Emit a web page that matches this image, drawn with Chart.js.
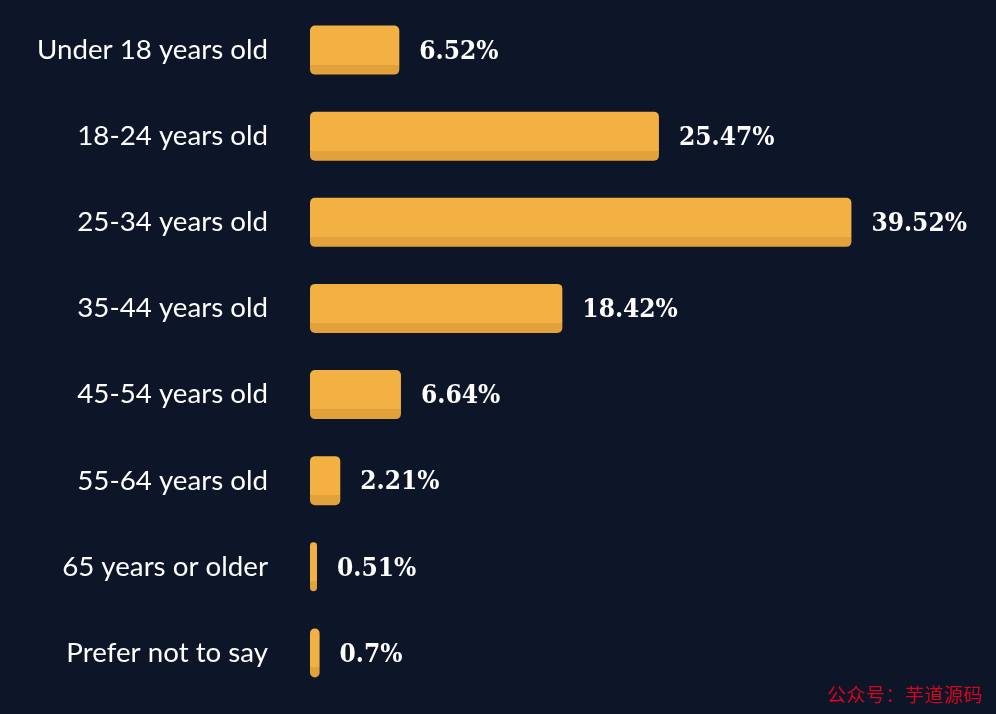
<!DOCTYPE html>
<html>
<head>
<meta charset="utf-8">
<script src="https://cdn.jsdelivr.net/npm/chart.js@4/dist/chart.umd.min.js"></script>
<style>
  html, body { margin: 0; padding: 0; background: #0d1529; }
  #wrap { position: relative; width: 996px; height: 714px; }
  #mark { position: absolute; left: 827px; top: 680px; color: #d4051c; font: 19px "Noto Sans CJK SC", sans-serif; letter-spacing: 0.5px; }
</style>
</head>
<body>
<div id="wrap">
  <canvas id="ageChart" width="996" height="714"></canvas>
  <div id="mark">公众号：芋道源码</div>
</div>
<script>
  // age groups and share of respondents (%)
  const ageGroups = [
    'Under 18 years old',
    '18-24 years old',
    '25-34 years old',
    '35-44 years old',
    '45-54 years old',
    '55-64 years old',
    '65 years or older',
    'Prefer not to say'
  ];
  const shares = [6.52, 25.47, 39.52, 18.42, 6.64, 2.21, 0.51, 0.7];

  const BAR_TOP = '#f3b043';
  const BAR_BOTTOM = '#e3a13b';
  const BAR_PCT = 0.57;

  // darker strip along the bottom of each bar
  function barFill(context) {
    const chart = context.chart;
    const y = chart.scales && chart.scales.y;
    if (!y || context.dataIndex === undefined) return BAR_TOP;
    const center = y.getPixelForValue(context.dataIndex);
    const step = Math.abs(y.getPixelForValue(1) - y.getPixelForValue(0));
    if (!isFinite(center) || !isFinite(step) || step === 0) return BAR_TOP;
    const h = step * BAR_PCT;
    const top = center - h / 2;
    const g = chart.ctx.createLinearGradient(0, top, 0, top + h);
    const cut = (h - 10) / h;
    g.addColorStop(0, BAR_TOP);
    g.addColorStop(cut, BAR_TOP);
    g.addColorStop(cut, BAR_BOTTOM);
    g.addColorStop(1, BAR_BOTTOM);
    return g;
  }

  const valueLabels = {
    id: 'valueLabels',
    afterDatasetsDraw(chart) {
      const ctx = chart.ctx;
      const meta = chart.getDatasetMeta(0);
      ctx.save();
      ctx.fillStyle = '#ffffff';
      ctx.font = 'bold 26px "DejaVu Serif Condensed", "DejaVu Serif", serif';
      ctx.textAlign = 'left';
      ctx.textBaseline = 'middle';
      meta.data.forEach(function(bar, i) {
        ctx.fillText(shares[i] + '%', bar.x + 20, bar.y + 2);
      });
      ctx.restore();
    }
  };

  new Chart(document.getElementById('ageChart'), {
    type: 'bar',
    data: {
      labels: ageGroups,
      datasets: [{
        data: shares,
        backgroundColor: barFill,
        borderRadius: 5,
        borderSkipped: false,
        categoryPercentage: 1,
        barPercentage: BAR_PCT
      }]
    },
    options: {
      indexAxis: 'y',
      responsive: false,
      animation: false,
      layout: {
        padding: { top: 7, bottom: 18, left: 0, right: 138 }
      },
      plugins: {
        legend: { display: false },
        tooltip: { enabled: false }
      },
      scales: {
        x: {
          display: false,
          min: 0,
          max: 40
        },
        y: {
          grid: { display: false, drawTicks: false },
          border: { display: false },
          afterFit: function(scale) {
            scale.width = 310;
            scale.paddingTop = 0;
            scale.paddingBottom = 0;
          },
          ticks: {
            color: '#ffffff',
            padding: 42,
            font: { family: 'Lato', size: 27.7 }
          }
        }
      }
    },
    plugins: [valueLabels]
  });
</script>
</body>
</html>
